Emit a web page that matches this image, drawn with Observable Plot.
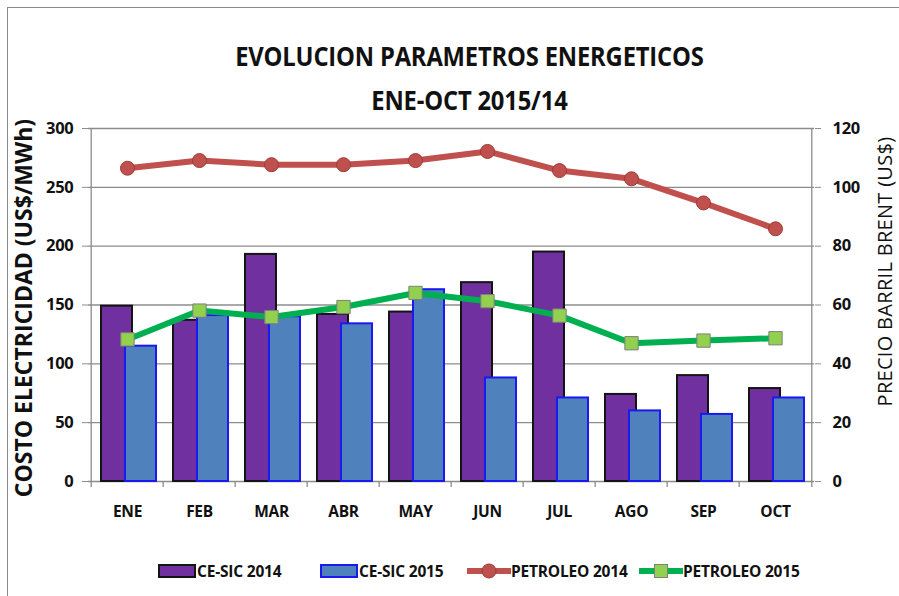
<!DOCTYPE html>
<html>
<head>
<meta charset="utf-8">
<script src="https://cdn.jsdelivr.net/npm/d3@7"></script>
<script src="https://cdn.jsdelivr.net/npm/@observablehq/plot@0.6"></script>
<style>
  html, body { margin: 0; padding: 0; background: #fff; }
  #wrap { position: relative; width: 899px; height: 596px; overflow: hidden; font-family: "Open Sans", sans-serif; color: #111; }
  #border { position: absolute; left: 7px; top: 7px; width: 900px; height: 600px; border-left: 1.5px solid #8a8a8a; border-top: 1.5px solid #8a8a8a; }
  .title { position: absolute; left: 40px; width: 859px; text-align: center; font-weight: bold; font-size: 27px; color: #111; letter-spacing: -0.2px; transform: scaleX(0.88); transform-origin: 429px 0; }
  #chart { position: absolute; left: 0; top: 110px; }
  .ylab { position: absolute; white-space: nowrap; transform-origin: center center; }
  #legend { position: absolute; top: 559px; left: 0; width: 899px; height: 24px; }
  .li { position: absolute; top: 0; height: 24px; display: flex; align-items: center; font-weight: bold; font-size: 15.5px; white-space: nowrap; letter-spacing: -0.2px; }
</style>
</head>
<body>
<div id="wrap">
  <div id="border"></div>
  <div class="title" style="top:37px">EVOLUCION PARAMETROS ENERGETICOS</div>
  <div class="title" style="top:81px">ENE-OCT 2015/14</div>
  <div id="chart"></div>
  <div class="ylab" id="ylabL" style="font-weight:bold;font-size:23px;">COSTO ELECTRICIDAD (US$/MWh)</div>
  <div class="ylab" id="ylabR" style="font-size:20px;letter-spacing:0.3px;">PRECIO BARRIL BRENT (US$)</div>
  <div id="legend"></div>
</div>
<script>
const months = ["ENE","FEB","MAR","ABR","MAY","JUN","JUL","AGO","SEP","OCT"];
const ceSic2014 = [149, 137, 193, 142, 144, 169, 195, 74, 90, 79];
const ceSic2015 = [115, 141, 140, 134, 163, 88, 71, 60, 57, 71];
const petroleo2014 = [106.5, 109.1, 107.7, 107.7, 109.1, 112.2, 105.7, 102.9, 94.7, 85.9];
const petroleo2015 = [48.3, 58.1, 55.9, 59.3, 64.1, 61.3, 56.4, 47.0, 47.9, 48.7];
const leftTicks = [0, 50, 100, 150, 200, 250, 300];
const rightTicks = [0, 20, 40, 60, 80, 100, 120];
const seriesNames = ["CE-SIC 2014", "CE-SIC 2015", "PETROLEO 2014", "PETROLEO 2015"];

const ratio = 300 / 120; // right axis mapped onto the left axis domain
const data = months.map((m, i) => ({
  month: m, ce2014: ceSic2014[i], ce2015: ceSic2015[i],
  p2014: petroleo2014[i], p2015: petroleo2015[i]
}));

const W = 899, H = 430, ML = 88, MR = 85, MT = 18, MB = 59;
const half = (W - ML - MR) / months.length / 2;
const font = '"Open Sans", sans-serif';

const chart = Plot.plot({
  width: W, height: H,
  marginLeft: ML, marginRight: MR, marginTop: MT, marginBottom: MB,
  style: { fontFamily: font, background: "transparent", overflow: "visible", letterSpacing: "-0.3px" },
  x: { domain: months, padding: 0, axis: null },
  y: { domain: [0, 300], axis: null },
  marks: [
    Plot.ruleY(leftTicks, { stroke: "#8c8c8c", strokeWidth: 1.3 }),
    Plot.ruleX([0], { x: () => months[0], dx: -half, y1: 0, y2: 300, stroke: "#8c8c8c", strokeWidth: 1.3 }),
    Plot.ruleX([0], { x: () => months[months.length - 1], dx: half, y1: 0, y2: 300, stroke: "#8c8c8c", strokeWidth: 1.3 }),
    Plot.ruleX(months, { x: d => d, dx: -half, y1: 0, y2: -5, stroke: "#8c8c8c", strokeWidth: 1.3 }),
    Plot.ruleX([months[months.length - 1]], { x: d => d, dx: half, y1: 0, y2: -5, stroke: "#8c8c8c", strokeWidth: 1.3 }),
    Plot.barY(data, { x: "month", y: "ce2014", fill: "#7030A0", stroke: "#141414", strokeWidth: 2, insetLeft: 10, insetRight: 31 }),
    Plot.barY(data, { x: "month", y: "ce2015", fill: "#4F81BD", stroke: "#1a1af0", strokeWidth: 2, insetLeft: 34, insetRight: 7 }),
    Plot.line(data, { x: "month", y: d => d.p2014 * ratio, stroke: "#C0504D", strokeWidth: 6 }),
    Plot.dot(data, { x: "month", y: d => d.p2014 * ratio, r: 7, fill: "#C0504D", stroke: "#9c3b38", strokeWidth: 1 }),
    Plot.line(data, { x: "month", y: d => d.p2015 * ratio, stroke: "#00B050", strokeWidth: 6 }),
    Plot.dot(data, { x: "month", y: d => d.p2015 * ratio, symbol: "square", r: 7.5, fill: "#92D050", stroke: "#7f7f7f", strokeWidth: 1 }),
    Plot.axisY({ anchor: "left", ticks: leftTicks, tickSize: 6, tickPadding: 9, stroke: "#8c8c8c", fill: "#111", fontSize: 16.5, fontWeight: "bold", label: null }),
    Plot.axisY({ anchor: "right", ticks: rightTicks.map(t => t * ratio), tickFormat: d => d / ratio, tickSize: 6, tickPadding: 12, stroke: "#8c8c8c", fill: "#111", fontSize: 16.5, fontWeight: "bold", label: null }),
    Plot.axisX({ tickSize: 0, tickPadding: 24, fill: "#111", fontSize: 15.5, fontWeight: "bold", label: null })
  ]
});
document.getElementById("chart").appendChild(chart);

function placeRot(id, cx, cy) {
  const el = document.getElementById(id);
  const w = el.offsetWidth, h = el.offsetHeight;
  el.style.left = (cx - w / 2) + "px";
  el.style.top = (cy - h / 2) + "px";
  el.style.transform = "rotate(-90deg)";
}
placeRot("ylabL", 23, 308);
placeRot("ylabR", 885, 271);

const legend = document.getElementById("legend");
const items = [
  { x: 158, kind: "bar", fill: "#7030A0", stroke: "#141414" },
  { x: 320, kind: "bar", fill: "#4F81BD", stroke: "#1a1af0" },
  { x: 467, kind: "line", stroke: "#C0504D", mfill: "#C0504D", mstroke: "#9c3b38", shape: "circle" },
  { x: 639, kind: "line", stroke: "#00B050", mfill: "#92D050", mstroke: "#7f7f7f", shape: "square" }
];
items.forEach((it, i) => {
  const div = document.createElement("div");
  div.className = "li";
  div.style.left = it.x + "px";
  let sw;
  if (it.kind === "bar") {
    sw = `<svg width="39" height="16"><rect x="1" y="2" width="36" height="12" fill="${it.fill}" stroke="${it.stroke}" stroke-width="2"/></svg>`;
  } else {
    const m = it.shape === "circle"
      ? `<circle cx="22" cy="8" r="7" fill="${it.mfill}" stroke="${it.mstroke}"/>`
      : `<rect x="15.5" y="1.5" width="13" height="13" fill="${it.mfill}" stroke="${it.mstroke}"/>`;
    sw = `<svg width="44" height="16"><line x1="0" y1="8" x2="44" y2="8" stroke="${it.stroke}" stroke-width="6"/>${m}</svg>`;
  }
  div.innerHTML = sw + `<span>${seriesNames[i]}</span>`;
  legend.appendChild(div);
});
</script>
</body>
</html>
